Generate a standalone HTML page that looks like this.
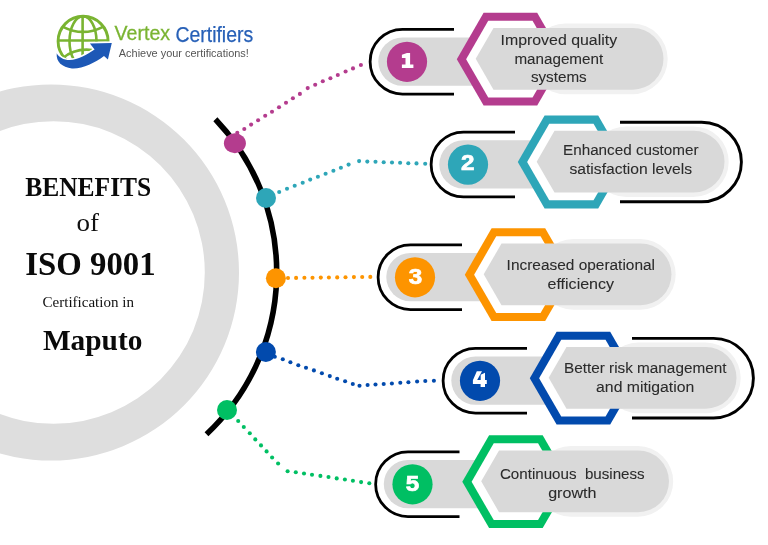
<!DOCTYPE html>
<html><head><meta charset="utf-8"><style>
html,body{margin:0;padding:0;background:#fff;}
body{width:768px;height:545px;overflow:hidden;font-family:"Liberation Sans",sans-serif;}
svg{display:block;will-change:transform;}
</style></head><body>
<svg width="768" height="545" viewBox="0 0 768 545">
<path fill="#dedede" fill-rule="evenodd" d="M-137,272.5 a188,188 0 1 0 376,0 a188,188 0 1 0 -376,0 Z M-97.8,272.5 a151.3,151.3 0 1 0 302.6,0 a151.3,151.3 0 1 0 -302.6,0 Z"/>
<path d="M215.39,119.20 A221.8,221.8 0 0 1 206.50,434.20" fill="none" stroke="#000" stroke-width="5.6"/>
<circle cx="237.3" cy="132.7" r="2.05" fill="#b43c8e"/>
<circle cx="244.3" cy="129" r="2.05" fill="#b43c8e"/>
<circle cx="251.1" cy="124.6" r="2.05" fill="#b43c8e"/>
<circle cx="258.1" cy="120.3" r="2.05" fill="#b43c8e"/>
<circle cx="265.2" cy="115.8" r="2.05" fill="#b43c8e"/>
<circle cx="272" cy="111.7" r="2.05" fill="#b43c8e"/>
<circle cx="279" cy="107.2" r="2.05" fill="#b43c8e"/>
<circle cx="286" cy="102.7" r="2.05" fill="#b43c8e"/>
<circle cx="292.9" cy="98.2" r="2.05" fill="#b43c8e"/>
<circle cx="299.9" cy="93.9" r="2.05" fill="#b43c8e"/>
<circle cx="307.7" cy="88.1" r="2.05" fill="#b43c8e"/>
<circle cx="315.2" cy="84.8" r="2.05" fill="#b43c8e"/>
<circle cx="322.8" cy="81.25" r="2.05" fill="#b43c8e"/>
<circle cx="330.4" cy="78.3" r="2.05" fill="#b43c8e"/>
<circle cx="337.8" cy="75" r="2.05" fill="#b43c8e"/>
<circle cx="345.6" cy="71.5" r="2.05" fill="#b43c8e"/>
<circle cx="353" cy="68.4" r="2.05" fill="#b43c8e"/>
<circle cx="360.9" cy="65" r="2.05" fill="#b43c8e"/>
<circle cx="279.2" cy="192" r="2.05" fill="#2ea6b8"/>
<circle cx="287" cy="188.7" r="2.05" fill="#2ea6b8"/>
<circle cx="294.7" cy="185.7" r="2.05" fill="#2ea6b8"/>
<circle cx="302.7" cy="182.7" r="2.05" fill="#2ea6b8"/>
<circle cx="310.2" cy="179.6" r="2.05" fill="#2ea6b8"/>
<circle cx="317.9" cy="176.8" r="2.05" fill="#2ea6b8"/>
<circle cx="325.6" cy="173.7" r="2.05" fill="#2ea6b8"/>
<circle cx="333.4" cy="170.7" r="2.05" fill="#2ea6b8"/>
<circle cx="340.9" cy="167.7" r="2.05" fill="#2ea6b8"/>
<circle cx="348.6" cy="164.6" r="2.05" fill="#2ea6b8"/>
<circle cx="359.1" cy="161.1" r="2.05" fill="#2ea6b8"/>
<circle cx="367.3" cy="161.6" r="2.05" fill="#2ea6b8"/>
<circle cx="375.5" cy="161.8" r="2.05" fill="#2ea6b8"/>
<circle cx="383.7" cy="162.3" r="2.05" fill="#2ea6b8"/>
<circle cx="392" cy="162.5" r="2.05" fill="#2ea6b8"/>
<circle cx="400.1" cy="162.7" r="2.05" fill="#2ea6b8"/>
<circle cx="408.3" cy="163.2" r="2.05" fill="#2ea6b8"/>
<circle cx="416.5" cy="163.4" r="2.05" fill="#2ea6b8"/>
<circle cx="425.2" cy="163.7" r="2.05" fill="#2ea6b8"/>
<circle cx="288" cy="278" r="2.05" fill="#fd9400"/>
<circle cx="296.1" cy="277.9" r="2.05" fill="#fd9400"/>
<circle cx="304.4" cy="277.8" r="2.05" fill="#fd9400"/>
<circle cx="312.5" cy="277.7" r="2.05" fill="#fd9400"/>
<circle cx="320.8" cy="277.6" r="2.05" fill="#fd9400"/>
<circle cx="328.9" cy="277.5" r="2.05" fill="#fd9400"/>
<circle cx="337.2" cy="277.4" r="2.05" fill="#fd9400"/>
<circle cx="345.5" cy="277.3" r="2.05" fill="#fd9400"/>
<circle cx="353.9" cy="277.1" r="2.05" fill="#fd9400"/>
<circle cx="362.2" cy="277" r="2.05" fill="#fd9400"/>
<circle cx="370.3" cy="276.9" r="2.05" fill="#fd9400"/>
<circle cx="274.8" cy="356.8" r="2.05" fill="#024aad"/>
<circle cx="282.8" cy="359.2" r="2.05" fill="#024aad"/>
<circle cx="290.4" cy="362.2" r="2.05" fill="#024aad"/>
<circle cx="298.3" cy="365.2" r="2.05" fill="#024aad"/>
<circle cx="306" cy="367.7" r="2.05" fill="#024aad"/>
<circle cx="313.9" cy="370.4" r="2.05" fill="#024aad"/>
<circle cx="321.9" cy="373.3" r="2.05" fill="#024aad"/>
<circle cx="329.8" cy="376.1" r="2.05" fill="#024aad"/>
<circle cx="337.2" cy="378.8" r="2.05" fill="#024aad"/>
<circle cx="345.1" cy="381.3" r="2.05" fill="#024aad"/>
<circle cx="352.8" cy="384" r="2.05" fill="#024aad"/>
<circle cx="359.5" cy="385.7" r="2.05" fill="#024aad"/>
<circle cx="367.6" cy="385" r="2.05" fill="#024aad"/>
<circle cx="375.5" cy="384.5" r="2.05" fill="#024aad"/>
<circle cx="383.7" cy="384" r="2.05" fill="#024aad"/>
<circle cx="391.9" cy="383.5" r="2.05" fill="#024aad"/>
<circle cx="400.3" cy="382.7" r="2.05" fill="#024aad"/>
<circle cx="408.4" cy="382.3" r="2.05" fill="#024aad"/>
<circle cx="417.1" cy="381.5" r="2.05" fill="#024aad"/>
<circle cx="425.3" cy="381" r="2.05" fill="#024aad"/>
<circle cx="433.9" cy="380.8" r="2.05" fill="#024aad"/>
<circle cx="238.2" cy="421" r="2.05" fill="#00bf63"/>
<circle cx="243.8" cy="427" r="2.05" fill="#00bf63"/>
<circle cx="249.8" cy="433.2" r="2.05" fill="#00bf63"/>
<circle cx="255.3" cy="439.4" r="2.05" fill="#00bf63"/>
<circle cx="261" cy="445.4" r="2.05" fill="#00bf63"/>
<circle cx="266.6" cy="451.4" r="2.05" fill="#00bf63"/>
<circle cx="272.1" cy="457.5" r="2.05" fill="#00bf63"/>
<circle cx="278.1" cy="463.5" r="2.05" fill="#00bf63"/>
<circle cx="287.6" cy="471.3" r="2.05" fill="#00bf63"/>
<circle cx="295.8" cy="472.2" r="2.05" fill="#00bf63"/>
<circle cx="304" cy="473.5" r="2.05" fill="#00bf63"/>
<circle cx="312" cy="474.8" r="2.05" fill="#00bf63"/>
<circle cx="320.4" cy="475.9" r="2.05" fill="#00bf63"/>
<circle cx="328.5" cy="477" r="2.05" fill="#00bf63"/>
<circle cx="336.7" cy="478.4" r="2.05" fill="#00bf63"/>
<circle cx="344.9" cy="479.5" r="2.05" fill="#00bf63"/>
<circle cx="352.9" cy="480.8" r="2.05" fill="#00bf63"/>
<circle cx="361.1" cy="482.1" r="2.05" fill="#00bf63"/>
<circle cx="369.3" cy="483.2" r="2.05" fill="#00bf63"/>
<ellipse cx="234.9" cy="143.3" rx="11" ry="10" fill="#b43c8e"/>
<ellipse cx="266.0" cy="198.0" rx="10" ry="10" fill="#2ea6b8"/>
<ellipse cx="275.9" cy="278.3" rx="10" ry="10" fill="#fd9400"/>
<ellipse cx="265.9" cy="352.0" rx="10" ry="10" fill="#024aad"/>
<ellipse cx="227.0" cy="410.0" rx="10" ry="10" fill="#00bf63"/>
<path d="M454.00,29.30 H402.50 A32.40,32.40 0 0 0 402.50,94.10 H454.00" fill="none" stroke="#000" stroke-width="2.8"/>
<rect x="378.30" y="37.40" width="130" height="48.4" rx="24.2" fill="#d9d9d9"/>
<circle cx="407.0" cy="61.8" r="20.1" fill="#b43c8e"/>
<polygon points="456.80,59.20 483.60,12.78 537.20,12.78 564.00,59.20 537.20,105.62 483.60,105.62" fill="#b43c8e"/>
<polygon points="466.10,59.20 488.25,20.84 532.55,20.84 554.70,59.20 532.55,97.56 488.25,97.56" fill="#fff"/>
<rect x="530.00" y="23.60" width="137.70" height="70.60" rx="35.30" fill="#f1f1f1"/>
<path d="M475.70,58.85 L493.51,28.00 H632.65 A30.85,30.85 0 0 1 632.65,89.70 H493.51 Z" fill="#d9d9d9"/>
<path transform="translate(0.00,0.00)" d="M401.9,54.8 L405.5,53.6 L407,52.9 L410.1,52.9 L410.1,64.5 L413.4,64.5 L413.4,68 L401.9,68 L401.9,64.5 L405.5,64.5 L405.5,57.9 L401.9,57.9 Z" fill="#fff"/>
<text x="500.50" y="45.00" textLength="116.60" lengthAdjust="spacingAndGlyphs" font-family="Liberation Sans" font-size="14.7" fill="#2b2b2b" stroke="#2b2b2b" stroke-width="0.08" xml:space="preserve">Improved quality</text>
<text x="514.40" y="64.20" textLength="88.80" lengthAdjust="spacingAndGlyphs" font-family="Liberation Sans" font-size="14.7" fill="#2b2b2b" stroke="#2b2b2b" stroke-width="0.08" xml:space="preserve">management</text>
<text x="530.90" y="82.40" textLength="55.80" lengthAdjust="spacingAndGlyphs" font-family="Liberation Sans" font-size="14.7" fill="#2b2b2b" stroke="#2b2b2b" stroke-width="0.08" xml:space="preserve">systems</text>
<path d="M515.00,132.10 H463.50 A32.40,32.40 0 0 0 463.50,196.90 H515.00" fill="none" stroke="#000" stroke-width="2.8"/>
<path d="M620.00,122.20 H701.60 A39.80,39.80 0 0 1 701.60,201.80 H620.00" fill="none" stroke="#000" stroke-width="2.9"/>
<rect x="439.30" y="140.20" width="130" height="48.4" rx="24.2" fill="#d9d9d9"/>
<circle cx="468.0" cy="164.6" r="20.1" fill="#2ea6b8"/>
<polygon points="517.80,162.00 544.60,115.58 598.20,115.58 625.00,162.00 598.20,208.42 544.60,208.42" fill="#2ea6b8"/>
<polygon points="527.10,162.00 549.25,123.64 593.55,123.64 615.70,162.00 593.55,200.36 549.25,200.36" fill="#fff"/>
<rect x="591.00" y="126.40" width="137.70" height="70.60" rx="35.30" fill="#f1f1f1"/>
<path d="M536.70,161.65 L554.51,130.80 H693.65 A30.85,30.85 0 0 1 693.65,192.50 H554.51 Z" fill="#d9d9d9"/>
<text transform="translate(467.80,170.10) scale(1.1,1)" x="0" y="0" text-anchor="middle" font-family="Liberation Sans" font-weight="bold" font-size="22" fill="#fff" stroke="#fff" stroke-width="0.7">2</text>
<text x="563.05" y="155.00" textLength="135.50" lengthAdjust="spacingAndGlyphs" font-family="Liberation Sans" font-size="14.7" fill="#2b2b2b" stroke="#2b2b2b" stroke-width="0.08" xml:space="preserve">Enhanced customer</text>
<text x="569.45" y="173.75" textLength="122.70" lengthAdjust="spacingAndGlyphs" font-family="Liberation Sans" font-size="14.7" fill="#2b2b2b" stroke="#2b2b2b" stroke-width="0.08" xml:space="preserve">satisfaction levels</text>
<path d="M462.00,244.80 H410.50 A32.40,32.40 0 0 0 410.50,309.60 H462.00" fill="none" stroke="#000" stroke-width="2.8"/>
<rect x="386.30" y="252.90" width="130" height="48.4" rx="24.2" fill="#d9d9d9"/>
<circle cx="415.0" cy="277.3" r="20.1" fill="#fd9400"/>
<polygon points="464.80,274.70 491.60,228.28 545.20,228.28 572.00,274.70 545.20,321.12 491.60,321.12" fill="#fd9400"/>
<polygon points="474.10,274.70 496.25,236.34 540.55,236.34 562.70,274.70 540.55,313.06 496.25,313.06" fill="#fff"/>
<rect x="538.00" y="239.10" width="137.70" height="70.60" rx="35.30" fill="#f1f1f1"/>
<path d="M483.70,274.35 L501.51,243.50 H640.65 A30.85,30.85 0 0 1 640.65,305.20 H501.51 Z" fill="#d9d9d9"/>
<text transform="translate(415.50,283.50) scale(1.1,1)" x="0" y="0" text-anchor="middle" font-family="Liberation Sans" font-weight="bold" font-size="22" fill="#fff" stroke="#fff" stroke-width="0.7">3</text>
<text x="506.60" y="270.10" textLength="148.40" lengthAdjust="spacingAndGlyphs" font-family="Liberation Sans" font-size="14.7" fill="#2b2b2b" stroke="#2b2b2b" stroke-width="0.08" xml:space="preserve">Increased operational</text>
<text x="547.50" y="289.10" textLength="66.60" lengthAdjust="spacingAndGlyphs" font-family="Liberation Sans" font-size="14.7" fill="#2b2b2b" stroke="#2b2b2b" stroke-width="0.08" xml:space="preserve">efficiency</text>
<path d="M527.00,348.30 H475.50 A32.40,32.40 0 0 0 475.50,413.10 H527.00" fill="none" stroke="#000" stroke-width="2.8"/>
<path d="M632.00,338.40 H713.60 A39.80,39.80 0 0 1 713.60,418.00 H632.00" fill="none" stroke="#000" stroke-width="2.9"/>
<rect x="451.30" y="356.40" width="130" height="48.4" rx="24.2" fill="#d9d9d9"/>
<circle cx="480.0" cy="380.8" r="20.1" fill="#024aad"/>
<polygon points="529.80,378.20 556.60,331.78 610.20,331.78 637.00,378.20 610.20,424.62 556.60,424.62" fill="#024aad"/>
<polygon points="539.10,378.20 561.25,339.84 605.55,339.84 627.70,378.20 605.55,416.56 561.25,416.56" fill="#fff"/>
<rect x="603.00" y="342.60" width="137.70" height="70.60" rx="35.30" fill="#f1f1f1"/>
<path d="M548.70,377.85 L566.51,347.00 H705.65 A30.85,30.85 0 0 1 705.65,408.70 H566.51 Z" fill="#d9d9d9"/>
<path transform="translate(-0.20,0.20)" d="M477.0,371.0 L482.2,371.0 L477.4,379.8 L480.9,379.8 L480.9,374.6 L485.2,372.6 L485.2,379.8 L487.0,379.8 L487.0,383.7 L485.2,383.7 L485.2,386.8 L480.8,386.8 L480.8,383.7 L473.1,383.7 L473.1,380.0 Z" fill="#fff"/>
<text x="563.95" y="372.70" textLength="162.50" lengthAdjust="spacingAndGlyphs" font-family="Liberation Sans" font-size="14.7" fill="#2b2b2b" stroke="#2b2b2b" stroke-width="0.08" xml:space="preserve">Better risk management</text>
<text x="596.10" y="391.70" textLength="98.20" lengthAdjust="spacingAndGlyphs" font-family="Liberation Sans" font-size="14.7" fill="#2b2b2b" stroke="#2b2b2b" stroke-width="0.08" xml:space="preserve">and mitigation</text>
<path d="M459.50,451.80 H408.00 A32.40,32.40 0 0 0 408.00,516.60 H459.50" fill="none" stroke="#000" stroke-width="2.8"/>
<rect x="383.80" y="459.90" width="130" height="48.4" rx="24.2" fill="#d9d9d9"/>
<circle cx="412.5" cy="484.3" r="20.1" fill="#00bf63"/>
<polygon points="462.30,481.70 489.10,435.28 542.70,435.28 569.50,481.70 542.70,528.12 489.10,528.12" fill="#00bf63"/>
<polygon points="471.60,481.70 493.75,443.34 538.05,443.34 560.20,481.70 538.05,520.06 493.75,520.06" fill="#fff"/>
<rect x="535.50" y="446.10" width="137.70" height="70.60" rx="35.30" fill="#f1f1f1"/>
<path d="M481.20,481.35 L499.01,450.50 H638.15 A30.85,30.85 0 0 1 638.15,512.20 H499.01 Z" fill="#d9d9d9"/>
<text transform="translate(412.50,490.70) scale(1.1,1)" x="0" y="0" text-anchor="middle" font-family="Liberation Sans" font-weight="bold" font-size="22" fill="#fff" stroke="#fff" stroke-width="0.7">5</text>
<text x="499.95" y="478.90" textLength="144.70" lengthAdjust="spacingAndGlyphs" font-family="Liberation Sans" font-size="14.7" fill="#2b2b2b" stroke="#2b2b2b" stroke-width="0.08" xml:space="preserve">Continuous  business</text>
<text x="548.15" y="497.90" textLength="48.30" lengthAdjust="spacingAndGlyphs" font-family="Liberation Sans" font-size="14.7" fill="#2b2b2b" stroke="#2b2b2b" stroke-width="0.08" xml:space="preserve">growth</text>
<text x="25.20" y="195.80" textLength="126.10" lengthAdjust="spacingAndGlyphs" font-family="Liberation Serif" font-weight="bold" font-size="26.6" fill="#0a0a0a">BENEFITS</text>
<text x="76.60" y="231.00" textLength="22.50" lengthAdjust="spacingAndGlyphs" font-family="Liberation Serif" font-weight="normal" font-size="25.0" fill="#111">of</text>
<text x="25.30" y="275.20" textLength="130.30" lengthAdjust="spacingAndGlyphs" font-family="Liberation Serif" font-weight="bold" font-size="34" fill="#0a0a0a">ISO 9001</text>
<text x="42.50" y="307.20" textLength="91.50" lengthAdjust="spacingAndGlyphs" font-family="Liberation Serif" font-weight="normal" font-size="14.4" fill="#111">Certification in</text>
<text x="42.90" y="349.50" textLength="99.50" lengthAdjust="spacingAndGlyphs" font-family="Liberation Serif" font-weight="bold" font-size="29" fill="#0a0a0a">Maputo</text>
<defs><clipPath id="gclip"><path d="M40,0 H120 V43 L104,56 C95,63 82,69 72,68.4 C62,67 56,62 56.7,53.2 L40,53 Z"/></clipPath></defs>
<g fill="none" stroke="#7ab432" stroke-width="2.6" clip-path="url(#gclip)">
<circle cx="83.1" cy="41.3" r="25" stroke-width="2.9"/>
<line x1="82.6" y1="16.5" x2="82.6" y2="56"/>
<ellipse cx="83" cy="41.3" rx="13.5" ry="25"/>
<line x1="57.5" y1="40.5" x2="108.5" y2="40.5"/>
<path d="M63,26.8 Q83,37 103,26.8"/>
<path d="M63,58 Q75,48 92,50"/>
</g>
<path d="M56.7,53.2 C56,62 62,67 72,68.4 C82,69 95,63 104,56 L107.9,59.4 L111.8,42.9 L89.9,43.4 L94.6,49.4 C86,55 78,59.4 70,60 C63,60 59,57 56.7,53.2 Z" fill="#1d58b6" stroke="#fff" stroke-width="3" paint-order="stroke"/>
<text x="114.6" y="40.2" textLength="55.5" lengthAdjust="spacingAndGlyphs" font-family="Liberation Sans" font-size="20.5" fill="#7ab432" stroke="#7ab432" stroke-width="0.3">Vertex</text>
<text x="175.4" y="41.9" textLength="77.8" lengthAdjust="spacingAndGlyphs" font-family="Liberation Sans" font-size="21.3" fill="#2760b7" stroke="#2760b7" stroke-width="0.25">Certifiers</text>
<text x="118.8" y="56.9" textLength="130" lengthAdjust="spacingAndGlyphs" font-family="Liberation Sans" font-size="10.6" fill="#555">Achieve your certifications!</text>
</svg>
</body></html>
